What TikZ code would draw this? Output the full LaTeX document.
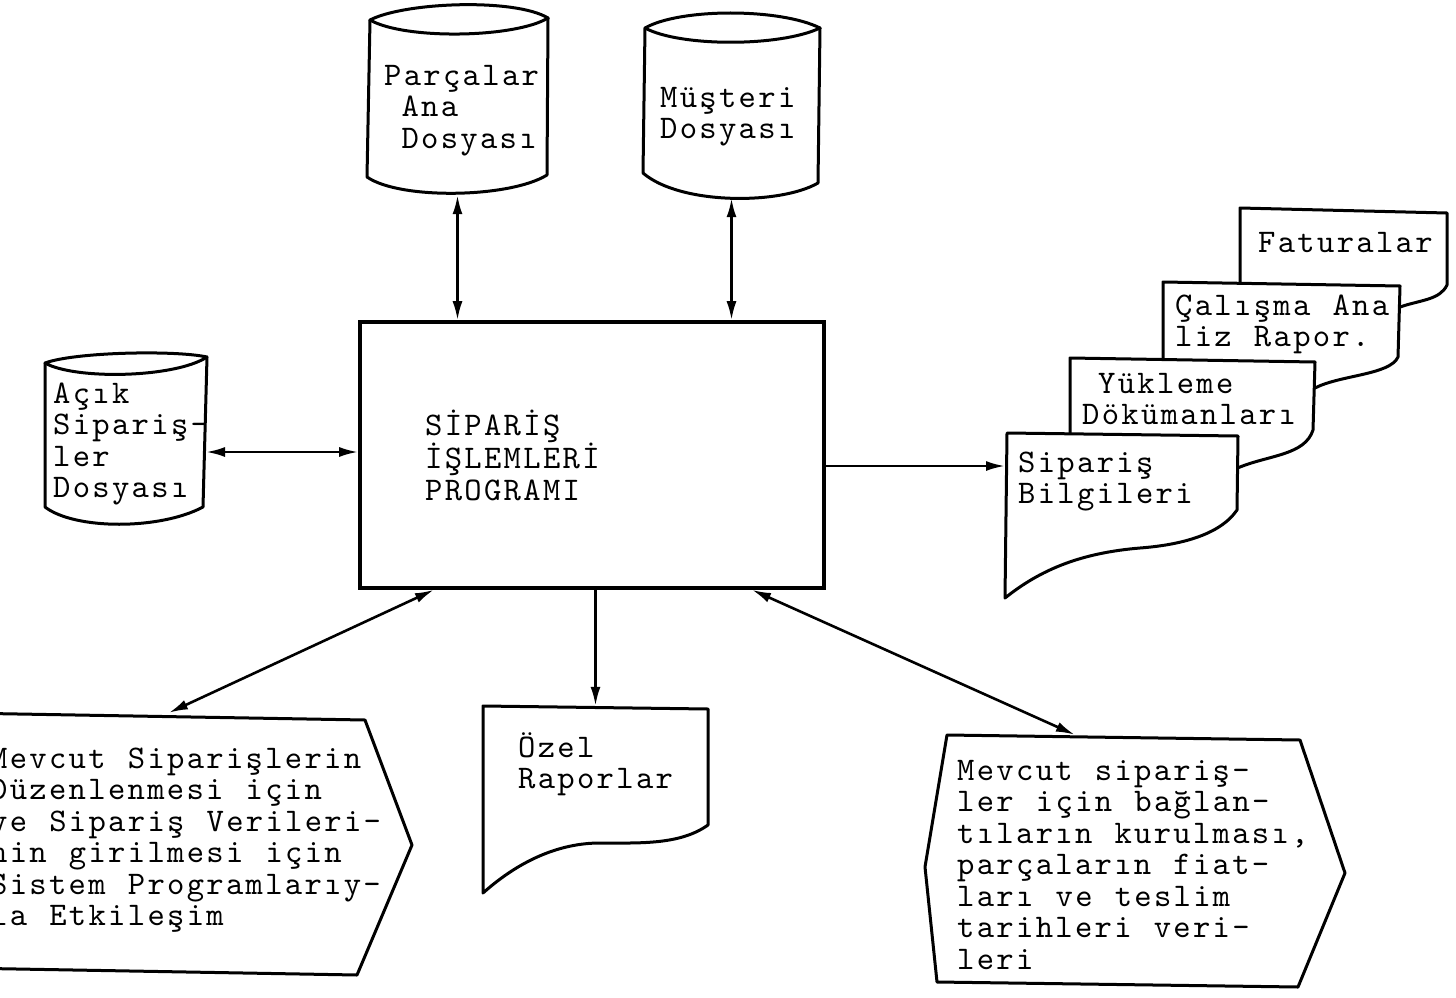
\documentclass[tikz,border=0pt]{standalone}
\usepackage{fontspec}
\usetikzlibrary{arrows.meta,calc}
\newfontfamily\twfont[LetterSpace=7,WordSpace=1.13]{lmmono10-regular.otf}
\newcommand\typew{\twfont\fontsize{33pt}{31.5pt}\selectfont}
\newcommand\fl{\rule{0pt}{26pt}}
\tikzset{
  ink/.style={line width=3pt, line join=round, line cap=round},
  paper/.style={ink, fill=white},
  spot/.style={draw=none, inner sep=0pt, minimum width=#1},
  lbl/.style={inner sep=0pt, anchor=north west, align=left, font=\typew},
  tip/.tip={Latex[length=19pt,width=10pt]},
  link/.style={line width=2.6pt, -tip},
  biline/.style={line width=2.6pt, tip-tip},
}
\begin{document}
\begin{tikzpicture}[x=1pt,y=-1pt]
\useasboundingbox (0,0) rectangle (1456,998);
\clip (0,0) rectangle (1456,998);

% central process box
\node[draw, line width=3.6pt, minimum width=464pt, minimum height=266pt, inner sep=0pt] (prog) at (592,455) {};
\node[lbl] (progtext) at (425,409) {\fl SİPARİŞ\\İŞLEMLERİ\\PROGRAMI};

% disk files
\draw[paper] (370,20) .. controls (405,2) and (515,-2) .. (548,18) .. controls (515,38) and (405,40) .. (370,20) -- cycle;
\draw[ink] (370,20) -- (367,177) .. controls (400,200) and (510,198) .. (547,175) -- (548,18);
\node[spot=181pt, minimum height=192pt] (parca) at (457.5,99) {};
\node[lbl] (parcatext) at (384,59) {\fl Parçalar\\\hphantom{P}Ana\\\hphantom{P}Dosyası};

\draw[paper] (645,28) .. controls (680,8) and (780,8) .. (820,28) .. controls (780,47) and (680,47) .. (645,28) -- cycle;
\draw[ink] (645,28) -- (643,173) .. controls (680,205) and (780,205) .. (818,183) -- (820,28);
\node[spot=177pt, minimum height=185pt] (muster) at (731.5,105.5) {};
\node[lbl] (mustertext) at (660,81) {\fl Müşteri\\Dosyası};

\draw[paper] (45,363) .. controls (75,352) and (175,350) .. (207,357) .. controls (175,378) and (75,380) .. (45,363) -- cycle;
\draw[ink] (45,363) -- (45,507) .. controls (75,530) and (160,530) .. (203,507) -- (207,357);
\coordinate (acikout) at (206,452);
\node[lbl] (aciktext) at (53,377) {\fl Açık\\Sipariş-\\ler\\Dosyası};

% stacked output documents
\draw[paper] (1240,208) -- (1447,213) -- (1447,285) .. controls (1440,300) and (1420,300) .. (1400,307)
  .. controls (1350,330) and (1290,330) .. (1240,360) -- cycle;
\node[lbl] (fattext) at (1258,226) {\fl Faturalar};

\draw[paper] (1163,282) -- (1400,286) -- (1398,357) .. controls (1390,375) and (1340,375) .. (1315,388)
  .. controls (1260,410) and (1200,410) .. (1163,440) -- cycle;
\node[lbl] (caltext) at (1175,289) {\fl Çalışma Ana\\liz Rapor.};

\draw[paper] (1070,358) -- (1315,362) -- (1313,430) .. controls (1305,455) and (1270,455) .. (1240,467)
  .. controls (1180,490) and (1110,490) .. (1070,520) -- cycle;
\node[lbl] (yuktext) at (1082,367) {\fl\hspace*{16pt}Yükleme\\Dökümanları};

\draw[paper] (1007,433) -- (1238,436) -- (1237,510) .. controls (1220,535) and (1180,545) .. (1140,548)
  .. controls (1080,553) and (1040,570) .. (1005,598) -- cycle;
\coordinate (sipin) at (1005,466);
\node[lbl] (siptext) at (1018,446) {\fl Sipariş\\Bilgileri};

% special reports document
\draw[paper] (483,706) -- (708,709) -- (708,825) .. controls (680,845) and (640,843) .. (600,843)
  .. controls (560,843) and (520,860) .. (483,893) -- cycle;
\node[spot=225pt, minimum height=187pt] (ozel) at (595.5,799.5) {};
\node[lbl] (ozeltext) at (518,731) {\fl Özel\\Raporlar};

% terminal displays
\draw[paper] (-40,713) -- (365,720) -- (412,845) -- (357,975) -- (-40,968);
\node[spot=442pt, minimum height=262pt] (ldisp) at (191,844) {};
\node[lbl] (ldtext) at (-10,742) {\fl Mevcut Siparişlerin\\Düzenlenmesi için\\ve Sipariş Verileri-\\nin girilmesi için\\Sistem Programlarıy-\\la Etkileşim};

\draw[paper] (947,735) -- (1300,740) -- (1345,873) -- (1298,987) -- (937,982) -- (925,867) -- cycle;
\node[spot=420pt, minimum height=252pt] (rdisp) at (1135,861) {};
\node[lbl] (rdtext) at (957,754) {\fl Mevcut sipariş-\\ler için bağlan-\\tıların kurulması,\\parçaların fiat-\\ları ve teslim\\tarihleri veri-\\leri};

% data flows
\draw[biline] (parca.south) -- (parca.south |- prog.north);
\draw[biline] (muster.south) -- (muster.south |- prog.north);
\draw[biline] (acikout) -- (prog.west |- acikout);
\draw[link] (prog.east |- sipin) -- (sipin);
\draw[link] (ozel.north |- prog.south) -- (ozel.north);
\draw[biline] ($(prog.south west)!0.162!(prog.south east)$) -- ($(ldisp.north west)!0.45!(ldisp.north east)$);
\draw[biline] ($(prog.south west)!0.842!(prog.south east)$) -- ($(rdisp.north west)!0.357!(rdisp.north east)$);
\end{tikzpicture}
\end{document}
